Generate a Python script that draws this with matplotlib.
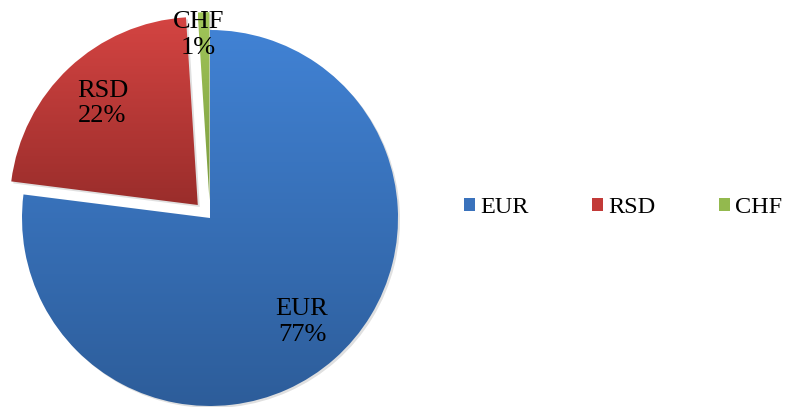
import matplotlib
matplotlib.use("Agg")
import matplotlib.pyplot as plt
import numpy as np
from matplotlib.colors import LinearSegmentedColormap
from matplotlib.patches import Patch, Wedge

plt.rcParams['font.family'] = ['Liberation Serif', 'DejaVu Serif']

valute = ['EUR', 'RSD', 'CHF']
udeli = [77, 22, 1]
procenti = ['77%', '22%', '1%']
izdvajanje = [0, 0.095, 0.095]   # udeo poluprecnika
boje_gore = ['#4182D4', '#D44442', '#A2C75A']
boje_dole = ['#2D5D9A', '#9A2D2B', '#7A9A3E']
boje_legenda = ['#3A72BC', '#C23A38', '#93B94E']

fig = plt.figure(figsize=(7.87, 4.07), dpi=100)
ax = fig.add_axes([0, 0, 420 / 787, 1])

R = 188
centar = (210, 189)
# explode u pie nije skaliran poluprecnikom, pa ga mnozimo sa R
wedges, _ = ax.pie(udeli, explode=[e * R for e in izdvajanje], startangle=90,
                   counterclock=False, radius=R, center=centar, frame=True)

for i, w in enumerate(wedges):
    # senka
    sh = Wedge((w.center[0] + 2, w.center[1] - 2), w.r, w.theta1, w.theta2,
               facecolor='#000000', alpha=0.12, edgecolor='none', zorder=0.5)
    ax.add_patch(sh)
    w.set_facecolor('none')
    w.set_edgecolor('none')
    ext = w.get_path().get_extents()
    cmap = LinearSegmentedColormap.from_list('g%d' % i, [boje_dole[i], boje_gore[i]])
    grad = np.linspace(0, 1, 256).reshape(-1, 1)
    im = ax.imshow(grad, cmap=cmap, origin='lower', aspect='auto',
                   extent=[ext.x0, ext.x1, ext.y0, ext.y1], zorder=1)
    im.set_clip_path(w)

# oznake
rel = [0.74, 0.74, 0.88]
pomeraj_ugla = [0, 0, 2.1]
for i, w in enumerate(wedges):
    ug = np.deg2rad((w.theta1 + w.theta2) / 2 + pomeraj_ugla[i])
    x = w.center[0] + rel[i] * R * np.cos(ug)
    y = w.center[1] + rel[i] * R * np.sin(ug)
    ax.text(x, y, valute[i] + '\n' + procenti[i], ha='center', va='center',
            fontsize=19, linespacing=1.22, zorder=3)

ax.set_xlim(0, 420)
ax.set_ylim(0, 407)
ax.set_aspect('equal')
ax.axis('off')

ruke = [Patch(facecolor=c, edgecolor='none') for c in boje_legenda]
fig.legend(ruke, valute, loc='center left', bbox_to_anchor=(0.59, 0.489),
           ncol=3, frameon=False, fontsize=17.5, handlelength=0.45, handleheight=0.45,
           handletextpad=0.22, columnspacing=2.6, borderpad=0, borderaxespad=0)

fig.savefig('out.png', dpi=100)
